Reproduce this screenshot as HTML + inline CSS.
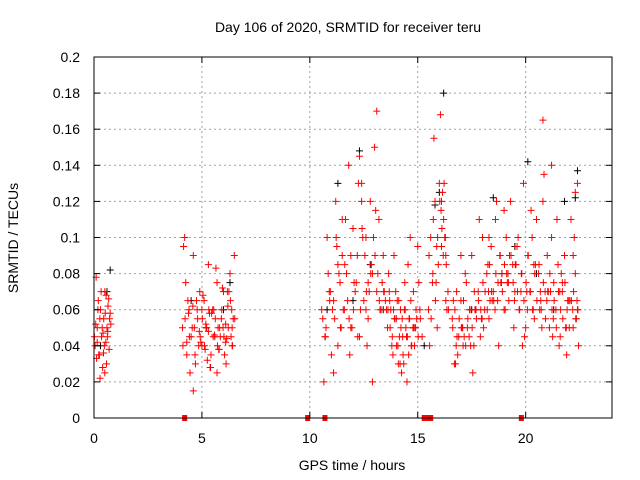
<!DOCTYPE html>
<html><head><meta charset="utf-8"><style>
body{margin:0;background:#fff;}
svg{display:block;font-family:"Liberation Sans",sans-serif;}
</style></head><body>
<svg id="chart" width="640" height="480">
<text x="348" y="32" font-size="14" text-anchor="middle">Day 106 of 2020, SRMTID for receiver teru</text>
<text x="352" y="470" font-size="14" text-anchor="middle">GPS time / hours</text>
<text transform="translate(18,238) rotate(-90)" font-size="14" text-anchor="middle">SRMTID / TECUs</text>
<g id="grid"></g><g id="marks"></g><g id="axes"></g>
</svg>
<script>
const xTicks=[0,5,10,15,20];
const yTicks=[0,0.02,0.04,0.06,0.08,0.1,0.12,0.14,0.16,0.18,0.2];
const yTickLabels=["0","0.02","0.04","0.06","0.08","0.1","0.12","0.14","0.16","0.18","0.2"];
const redTimes=[0.05,0.1,0.15,0.2,0.25,0.3,0.35,0.4,0.45,0.5,0.55,0.6,0.65,0.7,0.75,0.12,0.28,0.42,0.58,0.68,0.08,0.33,0.5,0.62,0.72,
4.1,4.2,4.3,4.4,4.5,4.6,4.7,4.8,4.9,5.0,5.1,5.2,5.3,5.4,5.5,5.6,5.7,5.8,5.9,6.0,6.1,6.2,6.3,6.4,6.5,4.25,4.45,4.65,4.85,5.05,5.25,5.45,5.65,5.85,6.05,6.25,6.45,4.3,4.6,5.0,5.3,5.7,6.1,6.4,4.15,4.75,5.15,5.55,5.95,6.35,
10.6,10.7,10.8,10.9,11.0,11.1,11.2,11.3,11.4,11.5,11.6,11.7,11.8,11.9,12.0,12.1,12.2,12.3,12.4,12.5,12.6,12.7,12.8,12.9,13.0,13.1,13.2,13.3,13.4,13.5,10.65,10.85,11.05,11.25,11.45,11.65,11.85,12.05,12.25,12.45,12.65,12.85,13.05,13.25,13.45,11.1,11.5,11.9,12.3,12.7,13.1,12.4,12.6,12.9,11.3,
13.6,13.7,13.8,13.9,14.0,14.1,14.2,14.3,14.4,14.5,14.6,14.7,14.8,14.9,15.0,15.1,15.2,13.65,13.85,14.05,14.25,14.45,14.65,14.85,15.05,13.75,14.15,14.55,14.95,14.35,
15.5,15.6,15.7,15.8,15.9,16.0,16.1,16.2,16.3,16.4,15.55,15.75,15.95,16.15,16.35,16.05,16.25,15.85,16.1,16.3,
16.6,16.7,16.8,16.9,17.0,17.1,17.2,17.3,17.4,17.5,17.6,17.7,17.8,17.9,18.0,18.1,18.2,18.3,18.4,18.5,18.6,18.7,18.8,18.9,19.0,19.1,19.2,19.3,19.4,19.5,19.6,19.7,19.8,19.9,20.0,20.1,20.2,20.3,20.4,20.5,20.6,20.7,20.8,20.9,21.0,21.1,21.2,21.3,21.4,21.5,21.6,21.7,21.8,21.9,22.0,22.1,22.2,22.3,22.4,
16.65,16.85,17.05,17.25,17.45,17.65,17.85,18.05,18.25,18.45,18.65,18.85,19.05,19.25,19.45,19.65,19.85,20.05,20.25,20.45,20.65,20.85,21.05,21.25,21.45,21.65,21.85,22.05,22.25,22.45,
16.75,17.15,17.55,17.95,18.35,18.75,19.15,19.55,19.95,20.35,20.75,21.15,21.55,21.95,22.35,20.8,21.2,22.3,22.4,17.0,18.3,19.0,20.2,21.7,22.2];
const redValues=[0.04,0.078,0.05,0.065,0.035,0.06,0.045,0.028,0.055,0.07,0.042,0.05,0.062,0.038,0.058,0.033,0.022,0.047,0.03,0.066,0.052,0.07,0.025,0.045,0.055,
0.05,0.1,0.035,0.06,0.045,0.09,0.03,0.055,0.07,0.04,0.065,0.05,0.085,0.028,0.06,0.045,0.075,0.038,0.055,0.07,0.042,0.062,0.08,0.05,0.09,0.075,0.025,0.05,0.04,0.068,0.032,0.058,0.083,0.045,0.035,0.07,0.055,0.042,0.015,0.06,0.048,0.025,0.052,0.04,0.095,0.065,0.038,0.06,0.072,0.045,
0.055,0.045,0.1,0.07,0.035,0.065,0.12,0.04,0.075,0.09,0.06,0.08,0.14,0.05,0.105,0.07,0.09,0.045,0.13,0.065,0.1,0.055,0.12,0.08,0.15,0.07,0.11,0.06,0.09,0.065,0.02,0.08,0.06,0.095,0.05,0.11,0.035,0.075,0.13,0.1,0.04,0.085,0.115,0.06,0.07,0.025,0.11,0.09,0.145,0.075,0.17,0.12,0.06,0.02,0.085,
0.05,0.065,0.04,0.09,0.055,0.03,0.06,0.045,0.075,0.02,0.055,0.04,0.07,0.05,0.095,0.06,0.045,0.08,0.035,0.065,0.025,0.05,0.1,0.04,0.075,0.06,0.045,0.085,0.055,0.03,
0.06,0.1,0.08,0.12,0.05,0.13,0.095,0.11,0.09,0.07,0.04,0.155,0.085,0.125,0.06,0.168,0.1,0.075,0.12,0.065,
0.055,0.03,0.07,0.045,0.065,0.04,0.08,0.05,0.06,0.09,0.04,0.06,0.07,0.045,0.1,0.06,0.08,0.055,0.095,0.07,0.11,0.065,0.09,0.08,0.06,0.1,0.075,0.12,0.085,0.07,0.095,0.06,0.08,0.13,0.05,0.09,0.07,0.1,0.055,0.11,0.08,0.065,0.12,0.07,0.09,0.05,0.1,0.075,0.06,0.085,0.045,0.07,0.09,0.035,0.065,0.11,0.05,0.08,0.06,
0.065,0.035,0.05,0.075,0.04,0.06,0.11,0.05,0.085,0.065,0.12,0.075,0.06,0.09,0.05,0.1,0.04,0.07,0.115,0.085,0.06,0.135,0.07,0.045,0.11,0.08,0.05,0.065,0.1,0.04,
0.03,0.045,0.025,0.055,0.065,0.04,0.075,0.085,0.045,0.06,0.05,0.07,0.04,0.065,0.055,0.165,0.14,0.125,0.13,0.09,0.1,0.115,0.07,0.075,0.09];
const extraRedTimes=[0.02,0.18,0.22,0.38,0.48,0.52,0.64,0.78,0.15,0.44,0.56,0.27,
4.12,4.22,4.35,4.42,4.55,4.68,4.78,4.92,5.02,5.12,5.22,5.32,5.42,5.52,5.62,5.72,5.82,5.92,6.02,6.12,6.22,6.32,6.42,6.52,4.38,4.58,4.88,5.18,5.38,5.58,5.78,5.98,6.18,6.38,4.95,5.35,5.75,6.15,
10.55,10.75,10.95,11.15,11.35,11.55,11.75,11.95,12.15,12.35,12.55,12.75,12.95,13.15,13.35,13.55,10.72,10.92,11.22,11.42,11.62,11.82,12.02,12.22,12.42,12.62,12.82,13.02,13.22,13.42,
13.62,13.72,13.82,13.92,14.02,14.12,14.22,14.32,14.42,14.52,14.62,14.72,14.82,14.92,15.02,15.12,13.68,13.88,14.08,14.28,14.48,14.68,14.88,14.18,14.38,14.58,14.78,13.98,
15.52,15.62,15.72,15.82,15.92,16.02,16.12,16.22,16.32,16.42,15.68,15.88,16.08,16.28,16.18,
16.62,16.72,16.82,16.92,17.02,17.12,17.22,17.32,17.42,17.52,17.62,17.72,17.82,17.92,18.02,18.12,18.22,18.32,18.42,18.52,18.62,18.72,18.82,18.92,19.02,19.12,19.22,19.32,19.42,19.52,19.62,19.72,19.82,19.92,20.02,20.12,20.22,20.32,20.42,20.52,20.62,20.72,20.82,20.92,21.02,21.12,21.22,21.32,21.42,21.52,21.62,21.72,21.82,21.92,22.02,22.12,22.22,22.32,22.42,
16.78,17.08,17.38,17.68,17.98,18.28,18.58,18.88,19.18,19.48,19.78,20.08,20.38,20.68,20.98,21.28,21.58,21.88,22.18,22.38];
const extraRedValues=[0.045,0.06,0.035,0.05,0.04,0.058,0.048,0.052,0.042,0.036,0.068,0.055,
0.04,0.055,0.065,0.045,0.05,0.035,0.06,0.045,0.055,0.04,0.05,0.06,0.035,0.045,0.055,0.04,0.05,0.06,0.045,0.03,0.05,0.065,0.04,0.055,0.058,0.062,0.048,0.052,0.028,0.046,0.038,0.05,0.07,0.06,0.042,0.058,0.05,0.044,
0.06,0.05,0.07,0.055,0.08,0.06,0.065,0.05,0.075,0.06,0.09,0.07,0.1,0.08,0.075,0.06,0.045,0.065,0.1,0.05,0.085,0.055,0.06,0.045,0.105,0.07,0.08,0.09,0.065,0.07,
0.06,0.05,0.045,0.055,0.04,0.065,0.05,0.035,0.06,0.045,0.055,0.04,0.05,0.06,0.045,0.055,0.07,0.06,0.04,0.055,0.045,0.065,0.05,0.03,0.06,0.035,0.05,0.07,
0.09,0.055,0.11,0.065,0.1,0.12,0.105,0.13,0.085,0.06,0.075,0.095,0.115,0.1,0.09,
0.05,0.06,0.045,0.055,0.05,0.065,0.04,0.055,0.06,0.05,0.07,0.055,0.065,0.06,0.075,0.07,0.06,0.085,0.07,0.065,0.08,0.075,0.09,0.07,0.085,0.08,0.065,0.09,0.075,0.085,0.07,0.06,0.08,0.065,0.075,0.09,0.07,0.06,0.08,0.065,0.085,0.06,0.075,0.055,0.07,0.08,0.06,0.065,0.05,0.07,0.06,0.055,0.075,0.06,0.05,0.065,0.07,0.055,0.06,
0.04,0.05,0.045,0.06,0.055,0.07,0.06,0.075,0.08,0.065,0.07,0.06,0.085,0.07,0.065,0.055,0.07,0.05,0.06,0.065];
const blackTimes=[0.3,0.6,0.75,4.5,5.2,6.3,6.0,10.8,11.3,12.0,12.3,12.8,13.4,14.0,14.8,15.3,15.8,16.2,16.0,17.5,18.5,18.9,19.5,20.1,20.5,21.3,21.8,22.3,22.4];
const blackValues=[0.04,0.07,0.082,0.065,0.05,0.075,0.06,0.06,0.13,0.065,0.148,0.085,0.06,0.055,0.05,0.04,0.118,0.18,0.125,0.06,0.122,0.08,0.095,0.142,0.08,0.06,0.12,0.122,0.137];
const zeroTimes=[4.2,9.9,10.7,15.3,15.4,15.5,15.6,19.8];
const ns="http://www.w3.org/2000/svg";
const X0=94,X1=612,Y0=418,Y1=57;
function xs(t){return X0+(t/24)*(X1-X0);}
function ys(v){return Y0-(v/0.2)*(Y0-Y1);}
function mk(tag,a,p){const e=document.createElementNS(ns,tag);for(const k in a)e.setAttribute(k,a[k]);p.appendChild(e);return e;}
const grid=document.getElementById('grid'),axes=document.getElementById('axes'),marks=document.getElementById('marks');
yTicks.forEach((v,i)=>{const y=ys(v);
 if(i>0&&i<yTicks.length-1){const g=mk('line',{x1:X0,x2:X1,y1:y,y2:y,stroke:'#a0a0a0','stroke-dasharray':'2,3','stroke-width':1},grid);
 
 }
 mk('line',{x1:X0,x2:X0+6,y1:y,y2:y,stroke:'#000'},axes);
 mk('line',{x1:X1,x2:X1-6,y1:y,y2:y,stroke:'#000'},axes);
 const t=mk('text',{x:X0-14,y:y+5,'font-size':14,'text-anchor':'end'},axes);t.textContent=yTickLabels[i];
 
 
});
xTicks.forEach(v=>{const x=xs(v);
 if(v>0){const g=mk('line',{x1:x,x2:x,y1:Y0,y2:Y1,stroke:'#a0a0a0','stroke-dasharray':'2,3'},grid);
 
 }
 mk('line',{x1:x,x2:x,y1:Y0,y2:Y0-6,stroke:'#000'},axes);
 mk('line',{x1:x,x2:x,y1:Y1,y2:Y1+6,stroke:'#000'},axes);
 const t=mk('text',{x:x,y:Y0+25,'font-size':14,'text-anchor':'middle'},axes);t.textContent=String(v);
 
 
});
const fr=mk('rect',{x:X0,y:Y1,width:X1-X0,height:Y0-Y1,fill:'none',stroke:'#000'},axes);


function plus(x,y,c,name){const p=mk('path',{d:`M${x-3.5},${y}h7M${x},${y-3.5}v7`,stroke:c,'stroke-width':1,fill:'none'},marks);
 
 }
blackTimes.forEach((t,i)=>plus(xs(t),ys(blackValues[i]),'#000','black-point'));
redTimes.forEach((t,i)=>plus(xs(t),ys(redValues[i]),'#ff0000','red-point'));
extraRedTimes.forEach((t,i)=>plus(xs(t),ys(extraRedValues[i]),'#ff0000','red-point'));
zeroTimes.forEach(t=>{const r=mk('rect',{x:xs(t)-2.5,y:Y0-3,width:5,height:6,fill:'#ff0000'},marks);
 
 });
</script>
</body></html>
